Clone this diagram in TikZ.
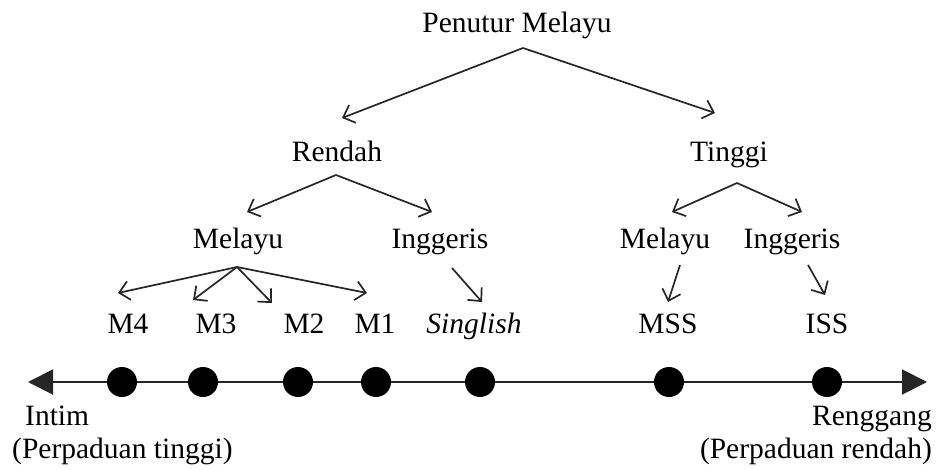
\documentclass[tikz,border=0pt]{standalone}
\usepackage{fontspec}
\setmainfont{Liberation Serif}
\usetikzlibrary{arrows.meta}

\begin{document}
\begin{tikzpicture}[x=1pt, y=-1pt,
    lbl/.style={anchor=base, inner sep=0pt, font=\fontsize{29.5}{34}\selectfont},
    arr/.style={-{Straight Barb[length=10pt,width=19pt]}, line width=1.7pt, black!85},
    dot/.style={circle, fill=black, inner sep=0pt, minimum size=30pt}]
  \useasboundingbox (0,0) rectangle (936,470);

  % Tree labels
  \node[lbl] (pm) at (517,33) {Penutur Melayu};
  \node[lbl] (rendah) at (337,162) {Rendah};
  \node[lbl] (tinggi) at (729,162) {Tinggi};
  \node[lbl] (melL) at (238,248) {Melayu};
  \node[lbl] (ingL) at (440,248) {Inggeris};
  \node[lbl] (melR) at (665,248) {Melayu};
  \node[lbl] (ingR) at (792,248) {Inggeris};
  \node[lbl] (mfour) at (128,333) {M4};
  \node[lbl] (mthree) at (216,333) {M3};
  \node[lbl] (mtwo) at (304,333) {M2};
  \node[lbl] (mone) at (375,333) {M1};
  \node[lbl] (singlish) at (474,333) {\itshape Singlish};
  \node[lbl] (mss) at (668,333) {MSS};
  \node[lbl] (iss) at (827,333) {ISS};

  % Branches
  \draw[arr] ([shift={(6pt,-15pt)}]pm.base) -- ([shift={(5pt,44pt)}]rendah.base);
  \draw[arr] ([shift={(6pt,-15pt)}]pm.base) -- ([shift={(-14pt,49pt)}]tinggi.base);
  \draw[arr] ([shift={(-1pt,-13pt)}]rendah.base) -- ([shift={(9pt,36pt)}]melL.base);
  \draw[arr] ([shift={(-1pt,-13pt)}]rendah.base) -- ([shift={(-8pt,36pt)}]ingL.base);
  \draw[arr] ([shift={(8pt,-21pt)}]tinggi.base) -- ([shift={(7pt,36pt)}]melR.base);
  \draw[arr] ([shift={(8pt,-21pt)}]tinggi.base) -- ([shift={(10pt,36pt)}]ingR.base);
  \draw[arr] ([shift={(-1pt,-19pt)}]melL.base) -- ([shift={(-10pt,40pt)}]mfour.base);
  \draw[arr] ([shift={(-1pt,-19pt)}]melL.base) -- ([shift={(-23pt,33pt)}]mthree.base);
  \draw[arr] ([shift={(-1pt,-19pt)}]melL.base) -- ([shift={(-32pt,30pt)}]mtwo.base);
  \draw[arr] ([shift={(-1pt,-19pt)}]melL.base) -- ([shift={(-8pt,40pt)}]mone.base);
  \draw[arr] ([shift={(12pt,-20pt)}]ingL.base) -- ([shift={(8pt,31pt)}]singlish.base);
  \draw[arr] ([shift={(15pt,-17pt)}]melR.base) -- ([shift={(0pt,31pt)}]mss.base);
  \draw[arr] ([shift={(16pt,-17pt)}]ingR.base) -- ([shift={(-2pt,38pt)}]iss.base);

  % Continuum axis
  \coordinate (axL) at (28,382);
  \coordinate (axR) at (927,382);
  \draw[{Triangle[length=25pt,width=25pt]}-{Triangle[length=25pt,width=25pt]}, line width=2pt, black!85] (axL) -- (axR);
  \foreach \px [count=\i] in {122,203,298,376,480,669,827}
    \node[dot] (d\i) at (\px,382) {};

  \node[lbl, anchor=base west] (intim) at (25,425) {Intim};
  \node[lbl, anchor=base west] (ptinggi) at (12,458) {(Perpaduan tinggi)};
  \node[lbl, anchor=base east] (renggang) at (932,425) {Renggang};
  \node[lbl, anchor=base east] (prendah) at (932,458) {(Perpaduan rendah)};
\end{tikzpicture}
\end{document}
